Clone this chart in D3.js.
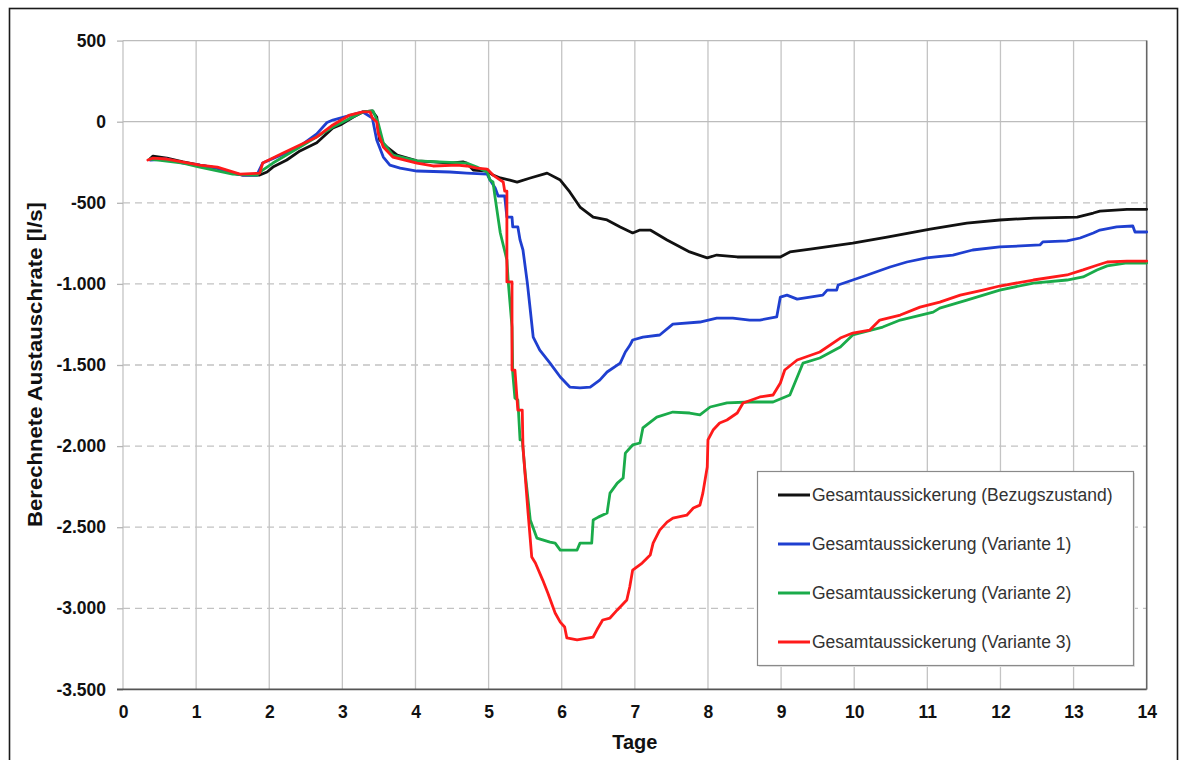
<!DOCTYPE html>
<html>
<head>
<meta charset="utf-8">
<script src="https://cdn.jsdelivr.net/npm/d3@7"></script>
<style>
  html, body { margin: 0; padding: 0; background: #fff; }
  svg { display: block; }
</style>
</head>
<body>
<svg id="chart" width="1180" height="760"></svg>
<script>
// ---- data (days, l/s) ----
const xTicks = [0,1,2,3,4,5,6,7,8,9,10,11,12,13,14];
const yTicks = [500,0,-500,-1000,-1500,-2000,-2500,-3000,-3500];
const seriesNames = [
  "Gesamtaussickerung (Bezugszustand)",
  "Gesamtaussickerung (Variante 1)",
  "Gesamtaussickerung (Variante 2)",
  "Gesamtaussickerung (Variante 3)"
];
const seriesColors = ["#111111", "#1f3fd0", "#1aab4a", "#ff1a1a"];

const bezugszustand = [[0.37,-228],[0.41,-212],[0.60,-225],[0.82,-248],[1.05,-268],[1.29,-286],[1.50,-317],[1.64,-329],[1.87,-329],[1.97,-310],[2.05,-280],[2.24,-236],[2.42,-180],[2.65,-130],[2.87,-39],[2.97,-20],[3.15,29],[3.28,60],[3.41,66],[3.47,29],[3.51,-113],[3.61,-156],[3.75,-206],[4.02,-242],[4.24,-248],[4.47,-255],[4.65,-248],[4.70,-255],[4.79,-298],[4.98,-304],[5.06,-329],[5.16,-347],[5.29,-360],[5.39,-372],[5.57,-347],[5.80,-317],[5.98,-360],[6.11,-433],[6.25,-526],[6.43,-588],[6.62,-606],[6.80,-649],[6.97,-686],[7.07,-668],[7.21,-668],[7.44,-729],[7.75,-803],[7.99,-840],[8.12,-822],[8.40,-834],[8.71,-834],[8.99,-834],[9.12,-803],[9.40,-785],[9.98,-748],[10.45,-711],[11.04,-662],[11.54,-625],[11.99,-606],[12.45,-594],[13.05,-588],[13.27,-563],[13.36,-551],[13.73,-540],[14.0,-540]];

const variante1 = [[0.37,-236],[0.60,-230],[0.82,-255],[1.05,-268],[1.29,-286],[1.50,-317],[1.64,-329],[1.83,-329],[1.91,-255],[2.19,-200],[2.42,-150],[2.65,-75],[2.79,-5],[2.87,10],[3.28,60],[3.41,23],[3.47,-113],[3.56,-218],[3.65,-268],[3.79,-286],[4.02,-304],[4.47,-310],[4.70,-317],[4.98,-323],[5.02,-360],[5.09,-409],[5.13,-458],[5.22,-458],[5.25,-588],[5.32,-588],[5.33,-649],[5.40,-649],[5.43,-729],[5.47,-791],[5.53,-995],[5.57,-1161],[5.61,-1328],[5.70,-1408],[5.84,-1488],[5.98,-1574],[6.11,-1636],[6.25,-1641],[6.39,-1636],[6.52,-1593],[6.62,-1543],[6.80,-1488],[6.87,-1420],[6.93,-1380],[6.97,-1346],[7.11,-1328],[7.34,-1315],[7.52,-1248],[7.89,-1235],[8.12,-1211],[8.34,-1211],[8.57,-1223],[8.71,-1223],[8.94,-1204],[8.99,-1081],[9.08,-1069],[9.22,-1094],[9.57,-1069],[9.63,-1038],[9.76,-1038],[9.78,-1007],[9.98,-976],[10.18,-945],[10.49,-896],[10.72,-865],[10.99,-840],[11.35,-822],[11.62,-791],[11.99,-772],[12.54,-760],[12.58,-741],[12.91,-735],[13.09,-717],[13.27,-686],[13.36,-668],[13.59,-649],[13.81,-643],[13.84,-680],[14.0,-680]];

const variante2 = [[0.37,-230],[0.82,-255],[1.05,-280],[1.50,-323],[1.83,-329],[1.91,-298],[2.05,-255],[2.42,-156],[2.87,-33],[3.28,60],[3.42,66],[3.49,-8],[3.56,-131],[3.69,-206],[4.02,-242],[4.70,-255],[4.84,-280],[4.98,-310],[5.02,-360],[5.06,-372],[5.09,-471],[5.16,-686],[5.20,-760],[5.25,-852],[5.27,-995],[5.32,-1266],[5.33,-1549],[5.36,-1704],[5.40,-1716],[5.43,-1962],[5.46,-1962],[5.50,-2166],[5.57,-2456],[5.66,-2567],[5.84,-2592],[5.91,-2598],[5.98,-2641],[6.21,-2641],[6.25,-2598],[6.41,-2598],[6.43,-2456],[6.50,-2438],[6.62,-2413],[6.66,-2290],[6.76,-2228],[6.84,-2197],[6.87,-2043],[6.97,-1993],[7.07,-1981],[7.11,-1888],[7.30,-1821],[7.52,-1790],[7.75,-1796],[7.89,-1808],[8.03,-1759],[8.26,-1734],[8.57,-1728],[8.89,-1728],[9.12,-1685],[9.30,-1488],[9.53,-1457],[9.81,-1389],[9.98,-1315],[10.39,-1266],[10.63,-1223],[11.08,-1174],[11.17,-1149],[11.54,-1100],[11.99,-1038],[12.45,-995],[12.91,-976],[13.13,-957],[13.32,-914],[13.46,-889],[13.73,-871],[14.0,-871]];

const variante3 = [[0.34,-236],[0.41,-225],[0.60,-230],[1.05,-268],[1.29,-280],[1.60,-323],[1.87,-317],[1.91,-255],[2.19,-193],[2.42,-144],[2.65,-94],[2.87,-20],[3.10,41],[3.28,60],[3.38,60],[3.41,23],[3.47,-2],[3.49,-70],[3.56,-156],[3.69,-218],[4.02,-255],[4.24,-273],[4.57,-268],[4.70,-273],[4.84,-286],[4.98,-292],[5.06,-329],[5.16,-360],[5.20,-372],[5.22,-428],[5.25,-428],[5.25,-988],[5.32,-988],[5.32,-1531],[5.36,-1531],[5.40,-1778],[5.46,-1778],[5.47,-2005],[5.54,-2413],[5.59,-2684],[5.64,-2721],[5.74,-2826],[5.81,-2906],[5.91,-3029],[5.98,-3085],[6.04,-3115],[6.07,-3183],[6.21,-3195],[6.43,-3177],[6.48,-3134],[6.56,-3072],[6.66,-3060],[6.76,-3010],[6.89,-2949],[6.93,-2869],[6.97,-2764],[7.10,-2721],[7.21,-2672],[7.25,-2598],[7.34,-2518],[7.44,-2469],[7.52,-2444],[7.71,-2426],[7.80,-2382],[7.89,-2364],[7.93,-2290],[7.99,-2129],[8.00,-1962],[8.07,-1901],[8.16,-1858],[8.26,-1839],[8.40,-1796],[8.48,-1734],[8.71,-1697],[8.89,-1685],[8.99,-1611],[9.05,-1531],[9.22,-1469],[9.53,-1420],[9.81,-1334],[9.98,-1303],[10.21,-1285],[10.35,-1223],[10.63,-1192],[10.90,-1143],[11.17,-1112],[11.45,-1069],[11.76,-1038],[11.99,-1013],[12.45,-976],[12.91,-945],[13.13,-914],[13.32,-885],[13.46,-865],[13.73,-859],[14.0,-859]];

const allSeries = [bezugszustand, variante1, variante2, variante3];
const xTitle = "Tage";
const yTitle = "Berechnete Austauschrate [l/s]";

// ---- drawing ----
const svg = d3.select("#chart");
const font = "Arial, 'Liberation Sans', Helvetica, sans-serif";

const x = d3.scaleLinear().domain([0, 14]).range([123, 1146.7]);
const y = d3.scaleLinear().domain([-3500, 500]).range([689.4, 40.6]);

const de = d3.formatLocale({decimal: ",", thousands: ".", grouping: [3], currency: ["", " €"], minus: "-"});
const fmt = de.format(",d");

// outer frame
svg.append("rect").attr("x", 9.5).attr("y", 8.5).attr("width", 1168).attr("height", 780)
  .attr("fill", "none").attr("stroke", "#1a1a1a").attr("stroke-width", 1.6);

const grid = svg.append("g");
// vertical grid
grid.selectAll("line.v").data(xTicks.filter(d => d < 14)).join("line")
  .attr("x1", d => x(d)).attr("x2", d => x(d))
  .attr("y1", y(500)).attr("y2", y(-3500))
  .attr("stroke", "#c4c4c4").attr("stroke-width", 1.3);
// horizontal grid
grid.selectAll("line.h").data(yTicks.filter(d => d > -3500)).join("line")
  .attr("x1", x(0)).attr("x2", x(14))
  .attr("y1", d => y(d)).attr("y2", d => y(d))
  .attr("stroke", d => d >= 0 ? "#bcbcbc" : "#c2c2c2")
  .attr("stroke-width", 1.3)
  .attr("stroke-dasharray", d => d >= 0 ? null : "7,5");

// y axis
const yAxis = svg.append("g").attr("transform", `translate(${x(0)},0)`)
  .call(d3.axisLeft(y).tickValues(yTicks).tickSize(6).tickPadding(11).tickFormat(fmt));
yAxis.select(".domain").remove();
yAxis.selectAll(".tick line").attr("stroke", "#b5b5b5").attr("stroke-width", 1.3);
yAxis.selectAll("text").attr("font-family", font).attr("font-size", 17.5)
  .attr("font-weight", "bold").attr("fill", "#111");

// x axis
const xAxis = svg.append("g").attr("transform", `translate(0,${y(-3500)})`)
  .call(d3.axisBottom(x).tickValues(xTicks).tickSize(0).tickPadding(16).tickFormat(d3.format("d")));
xAxis.select(".domain").remove();
xAxis.selectAll("text").attr("font-family", font).attr("font-size", 17.5)
  .attr("font-weight", "bold").attr("fill", "#111");

// plot borders: bottom & right dark
svg.append("line").attr("x1", x(0) - 6).attr("x2", x(14)).attr("y1", y(-3500)).attr("y2", y(-3500))
  .attr("stroke", "#555").attr("stroke-width", 1.6);
svg.append("line").attr("x1", x(14)).attr("x2", x(14)).attr("y1", y(500)).attr("y2", y(-3500))
  .attr("stroke", "#666").attr("stroke-width", 1.6);

// series
const line = d3.line().x(d => x(d[0])).y(d => y(d[1])).curve(d3.curveLinear);
svg.append("g").selectAll("path").data(allSeries).join("path")
  .attr("d", line)
  .attr("fill", "none")
  .attr("stroke", (d, i) => seriesColors[i])
  .attr("stroke-width", 2.8)
  .attr("stroke-linejoin", "round")
  .attr("stroke-linecap", "round");

// axis titles
svg.append("text").attr("x", (x(0) + x(14)) / 2).attr("y", 749)
  .attr("text-anchor", "middle").attr("font-family", font).attr("font-size", 20)
  .attr("font-weight", "bold").attr("fill", "#111").text(xTitle);
svg.append("text").attr("transform", `translate(42,${364.5}) rotate(-90)`)
  .attr("text-anchor", "middle").attr("font-family", font).attr("font-size", 20)
  .attr("textLength", 325).attr("lengthAdjust", "spacingAndGlyphs")
  .attr("font-weight", "bold").attr("fill", "#111").text(yTitle);

// legend
const lg = svg.append("g").attr("transform", "translate(757,471)");
lg.append("rect").attr("x", 2).attr("y", 2).attr("width", 376).attr("height", 194).attr("fill", "#e4e4e4");
lg.append("rect").attr("x", 0.5).attr("y", 0.5).attr("width", 376).attr("height", 194)
  .attr("fill", "#fff").attr("stroke", "#8a8a8a").attr("stroke-width", 1.2);
const rows = lg.selectAll("g.row").data(seriesNames).join("g")
  .attr("transform", (d, i) => `translate(0,${24 + i * 49})`);
rows.append("line").attr("x1", 21).attr("x2", 53).attr("y1", 0).attr("y2", 0)
  .attr("stroke", (d, i) => seriesColors[i]).attr("stroke-width", 3);
rows.append("text").attr("x", 55).attr("y", 6).attr("font-family", font).attr("font-size", 17.5)
  .attr("fill", "#333").text(d => d);
</script>
</body>
</html>
